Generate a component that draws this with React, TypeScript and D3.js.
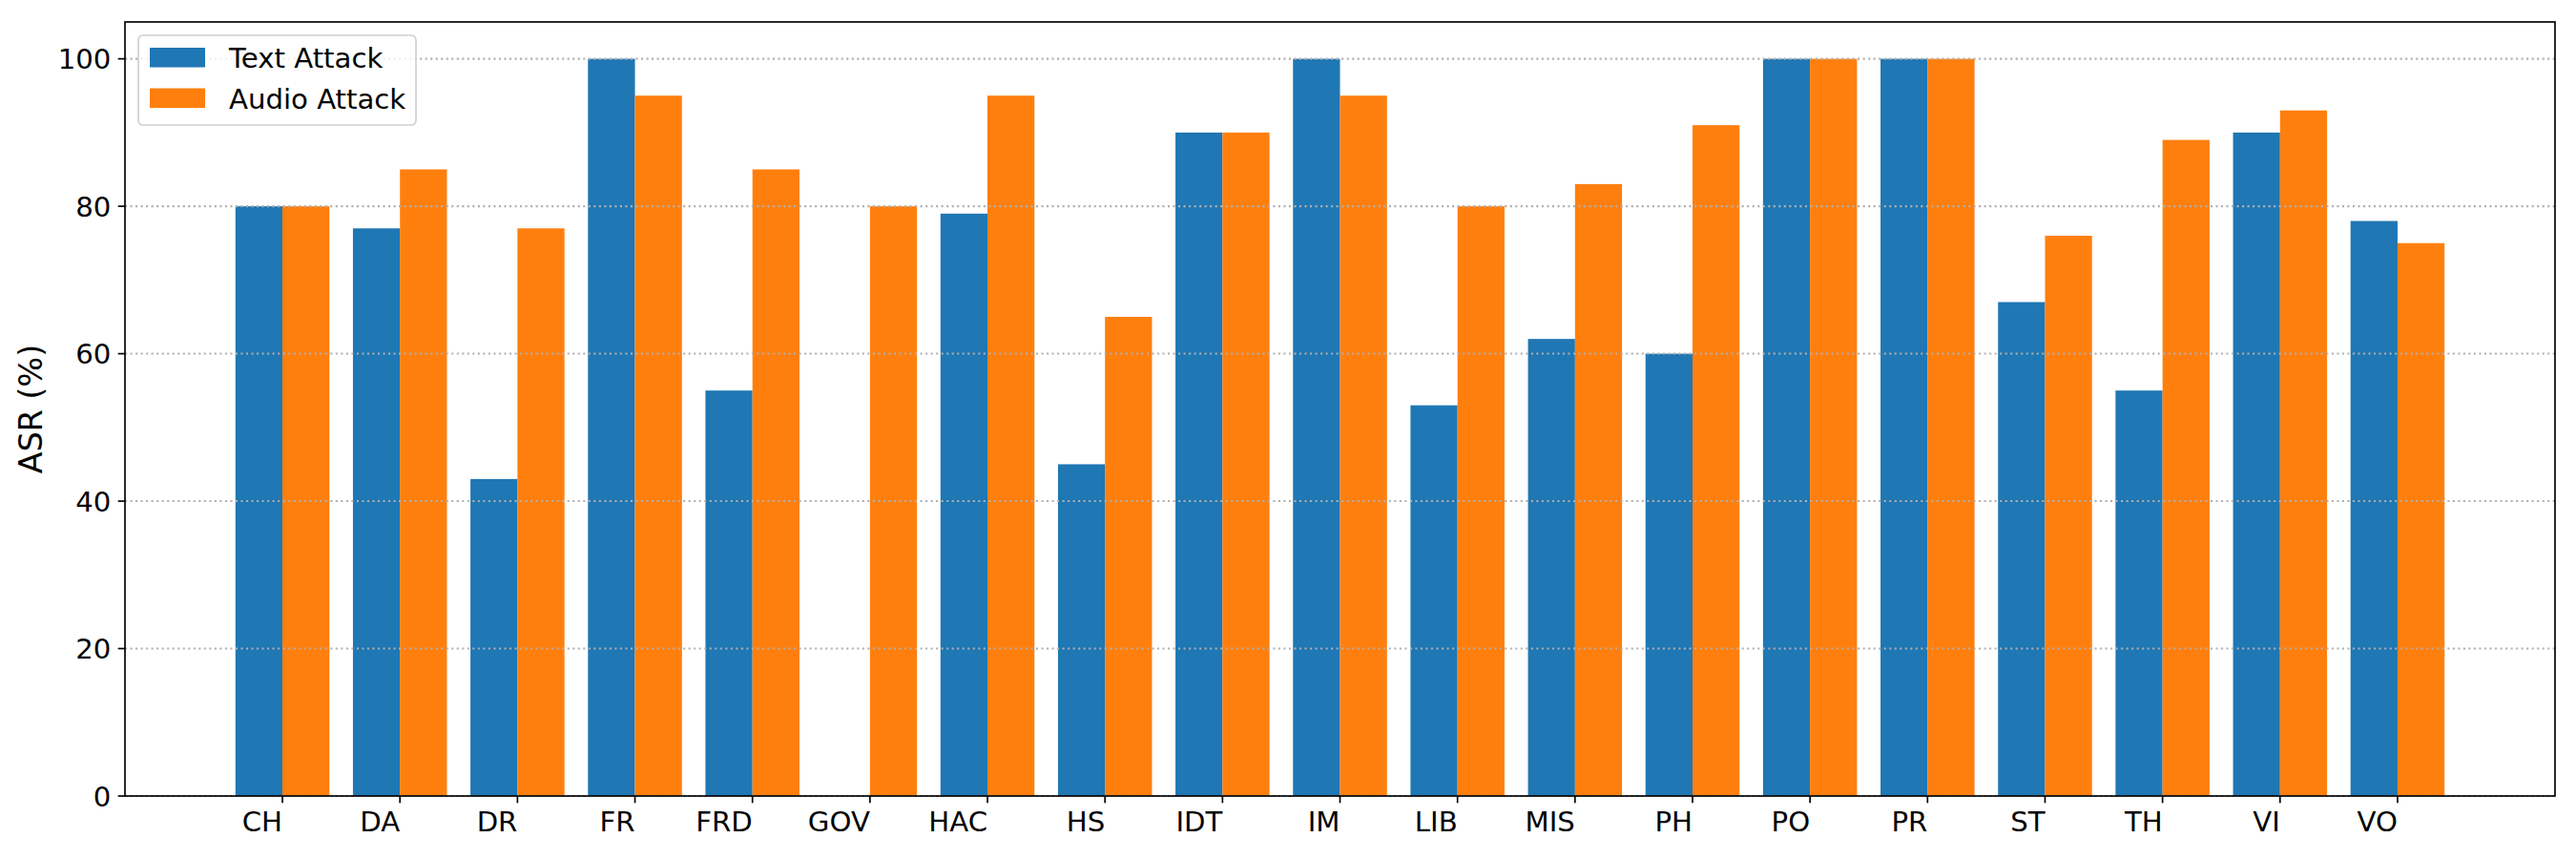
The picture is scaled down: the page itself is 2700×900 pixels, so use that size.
import React from "react";
import * as d3 from "d3";

const categories = ["CH","DA","DR","FR","FRD","GOV","HAC","HS","IDT","IM","LIB","MIS","PH","PO","PR","ST","TH","VI","VO"];
const textAttack = [80,77,43,100,55,0,79,45,90,100,53,62,60,100,100,67,55,90,78];
const audioAttack = [80,85,77,95,85,80,95,65,90,95,80,83,91,100,100,76,89,93,75];
const yTicks = [0,20,40,60,80,100];
const seriesNames = ["Text Attack","Audio Attack"];
const colors = ["#1f77b4","#ff7f0e"];

const W = 2700, H = 900;
const left = 131, right = 2678, top = 23, bottom = 834;
const barW = 0.4;
const FONT = "'DejaVu Sans', sans-serif";
const fs = 29.17;

export default function App() {
  const n = categories.length;
  const lo = -barW, hi = n - 1 + barW;
  const m = (hi - lo) * 0.05;
  const x = d3.scaleLinear().domain([lo - m, hi + m]).range([left, right]);
  const y = d3.scaleLinear().domain([0, 105]).range([bottom, top]);
  const series = [textAttack, audioAttack];
  const tickLen = 7.3, pad = 7.3;

  return (
    <svg width={W} height={H} style={{ position: "absolute", left: 0, top: 0, background: "#fff" }} fontFamily={FONT}>
      <rect x={0} y={0} width={W} height={H} fill="#fff" />
      {series.map((vals, s) =>
        vals.map((v, i) => {
          const x0 = s === 0 ? x(i - barW) : x(i);
          const x1 = s === 0 ? x(i) : x(i + barW);
          return <rect key={`${s}-${i}`} x={x0} y={y(v)} width={x1 - x0} height={y(0) - y(v)} fill={colors[s]} />;
        })
      )}
      {yTicks.map((t) => (
        <line key={`g${t}`} x1={left} x2={right} y1={y(t)} y2={y(t)} stroke="#b0b0b0" strokeWidth={2.08} strokeDasharray="2.08 3.44" />
      ))}
      <rect x={left} y={top} width={right - left} height={bottom - top} fill="none" stroke="#000" strokeWidth={1.67} />
      {yTicks.map((t) => (
        <g key={`yt${t}`}>
          <line x1={left - tickLen} x2={left} y1={y(t)} y2={y(t)} stroke="#000" strokeWidth={1.67} />
          <text x={left - tickLen - pad} y={y(t)} dy="0.36em" textAnchor="end" fontSize={fs} fill="#000">{t}</text>
        </g>
      ))}
      {categories.map((c, i) => (
        <g key={`xt${c}`}>
          <line x1={x(i)} x2={x(i)} y1={bottom} y2={bottom + tickLen} stroke="#000" strokeWidth={1.67} />
          <text x={x(i)} y={bottom + tickLen + pad + fs * 0.76} textAnchor="end" fontSize={fs} fill="#000">{c}</text>
        </g>
      ))}
      <text transform={`translate(43.5, ${(top + bottom) / 2}) rotate(-90)`} textAnchor="middle" fontSize={33.3} fill="#000">ASR (%)</text>
      <g>
        <rect x={145} y={37} width={291} height={94} rx={5} ry={5} fill="#fff" fillOpacity={0.8} stroke="#d0d0d0" strokeWidth={1.67} />
        {seriesNames.map((nm, k) => (
          <g key={nm}>
            <rect x={157} y={50 + k * 42.5} width={58} height={20.5} fill={colors[k]} />
            <text x={240} y={71.3 + k * 42.5} fontSize={fs} fill="#000">{nm}</text>
          </g>
        ))}
      </g>
    </svg>
  );
}
